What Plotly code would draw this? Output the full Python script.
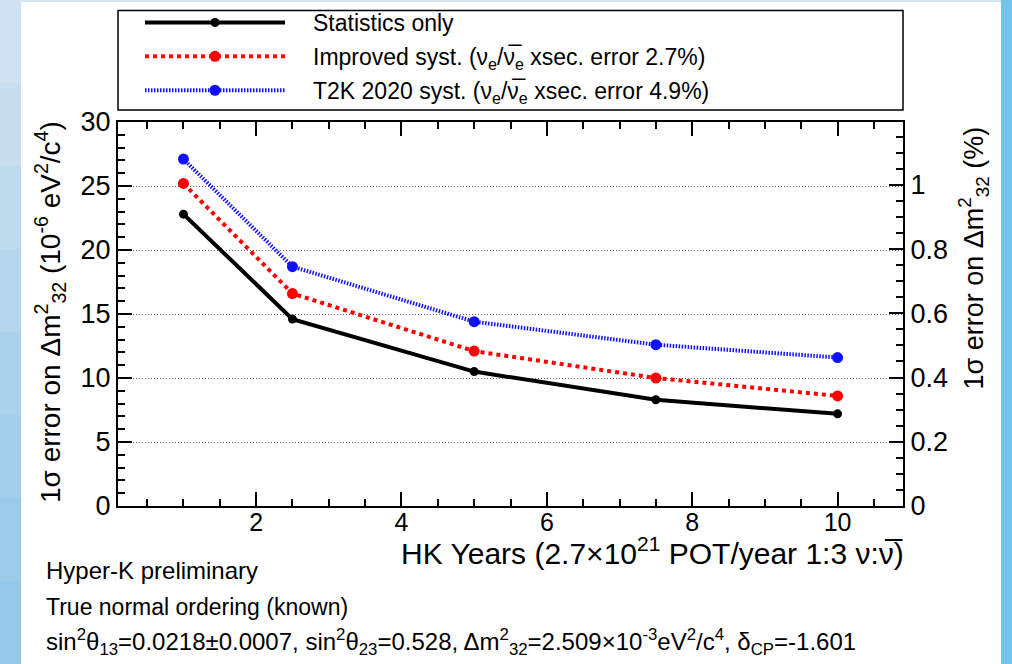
import plotly.graph_objects as go

# ---- data ----
years = [1, 2.5, 5, 7.5, 10]
stat_only = [22.8, 14.6, 10.5, 8.3, 7.2]
improved_syst = [25.2, 16.6, 12.1, 10.0, 8.6]
t2k2020_syst = [27.1, 18.7, 14.4, 12.6, 11.6]
dm2_32 = 2.509e-3  # eV^2/c^4, used for the right (%) axis
y_range = [0, 30]
x_range = [0.1, 10.9]
x_ticks = [2, 4, 6, 8, 10]

names = [
    "\u2003Statistics only",
    "\u2003Improved syst. (ν<sub>e</sub>/ν̅<sub>e</sub> xsec. error 2.7%)",
    "\u2003T2K 2020 syst. (ν<sub>e</sub>/ν̅<sub>e</sub> xsec. error 4.9%)",
]

W, H = 1012, 664
L, R, T, B = 118, 903, 122, 506
FONT = "Liberation Sans, Arial, Helvetica, sans-serif"


def px(x):
    return (x - L) / (R - L)


def py(y):
    return (B - y) / (B - T)


fig = go.Figure()
fig.add_trace(go.Scatter(
    x=years, y=stat_only, name=names[0], mode="lines+markers", legendgroup="a",
    line=dict(color="black", width=4),
    marker=dict(color="black", size=9),
))
fig.add_trace(go.Scatter(
    x=years, y=improved_syst, name=names[1], mode="lines+markers", legendgroup="b",
    line=dict(color="#ff0000", width=4, dash="4px,4px"),
    marker=dict(color="#ff0000", size=11),
))
fig.add_trace(go.Scatter(
    x=years, y=t2k2020_syst, name=names[2], mode="lines+markers", legendgroup="c",
    line=dict(color="#1010ff", width=4, dash="1.5px,1.5px"),
    marker=dict(color="#1010ff", size=11),
))
# empty trace so the right-hand (%) axis is drawn
fig.add_trace(go.Scatter(x=[], y=[], yaxis="y2", showlegend=False, hoverinfo="skip"))

shapes = []
# background strips (slide frame)
left_cols = ["#d0e1ef", "#c8ddee", "#bfd9ed", "#b6d6ec", "#acd2eb", "#a3cfea", "#9bcbe9", "#93c8e8"]
n = len(left_cols)
for i, c in enumerate(left_cols):
    shapes.append(dict(type="rect", xref="paper", yref="paper", layer="below",
                       x0=px(0), x1=px(21), y0=py(H * (i + 1) / n), y1=py(H * i / n),
                       fillcolor=c, line=dict(width=0)))
shapes.append(dict(type="rect", xref="paper", yref="paper", layer="below",
                   x0=px(1001), x1=px(W), y0=py(H), y1=py(0),
                   fillcolor="#74c3ea", line=dict(width=0)))
shapes.append(dict(type="rect", xref="paper", yref="paper", layer="below",
                   x0=px(21), x1=px(1001), y0=py(2), y1=py(0),
                   fillcolor="#d3e5f2", line=dict(width=0)))
# legend frame
shapes.append(dict(type="rect", xref="paper", yref="paper",
                   x0=0, x1=1, y0=py(110), y1=py(10.5),
                   fillcolor="rgba(0,0,0,0)", line=dict(color="black", width=1.5)))

annotations = [
    dict(text="1σ error on Δm<sup>2</sup><sub>32</sub> (10<sup>-6</sup> eV<sup>2</sup>/c<sup>4</sup>)",
         textangle=-90, xref="paper", yref="paper", x=px(50), y=py(119),
         xanchor="center", yanchor="top", showarrow=False,
         font=dict(size=28, color="black", family=FONT)),
    dict(text="1σ error on Δm<sup>2</sup><sub>32</sub> (%)",
         textangle=-90, xref="paper", yref="paper", x=px(973), y=py(125),
         xanchor="center", yanchor="top", showarrow=False,
         font=dict(size=27, color="black", family=FONT)),
    dict(text="HK Years (2.7×10<sup>21</sup> POT/year 1:3 ν:ν̅)",
         xref="paper", yref="paper", x=px(906), y=py(551),
         xanchor="right", yanchor="middle", showarrow=False,
         font=dict(size=30, color="black", family=FONT)),
    dict(text="Hyper-K preliminary",
         xref="paper", yref="paper", x=px(44), y=py(570),
         xanchor="left", yanchor="middle", showarrow=False,
         font=dict(size=24, color="black", family=FONT)),
    dict(text="True normal ordering (known)",
         xref="paper", yref="paper", x=px(44), y=py(607),
         xanchor="left", yanchor="middle", showarrow=False,
         font=dict(size=23, color="black", family=FONT)),
    dict(text="sin<sup>2</sup>θ<sub>13</sub>=0.0218±0.0007, sin<sup>2</sup>θ<sub>23</sub>=0.528, "
              "Δm<sup>2</sup><sub>32</sub>=2.509×10<sup>-3</sup>eV<sup>2</sup>/c<sup>4</sup>, "
              "δ<sub>CP</sub>=-1.601",
         xref="paper", yref="paper", x=px(44), y=py(642),
         xanchor="left", yanchor="middle", showarrow=False,
         font=dict(size=24, color="black", family=FONT)),
]

tickfont = dict(size=27, color="black", family=FONT)
xtickfont = dict(size=25, color="black", family=FONT)
minor_common = dict(ticks="inside", ticklen=7, tickcolor="black", tickwidth=1.5)

fig.update_layout(
    width=W, height=H,
    margin=dict(l=L, r=W - R, t=T, b=H - B, pad=0, autoexpand=False),
    paper_bgcolor="white", plot_bgcolor="white",
    font=dict(family=FONT, color="black"),
    showlegend=True,
    legend=dict(x=px(140), y=py(1), xanchor="left", yanchor="top",
                bgcolor="rgba(0,0,0,0)", borderwidth=0,
                font=dict(size=23, color="black", family=FONT),
                itemwidth=140, tracegroupgap=1),
    xaxis=dict(range=x_range, showgrid=False, zeroline=False,
               showline=True, linecolor="black", linewidth=2, mirror="ticks",
               ticks="inside", ticklen=14, tickwidth=1.5, tickcolor="black",
               tickmode="array", tickvals=x_ticks, tickfont=xtickfont,
               ticklabelstandoff=-7,
               minor=dict(dtick=0.5, tick0=0, **minor_common)),
    yaxis=dict(range=y_range, showgrid=True, gridcolor="#666", griddash="1px,2px", gridwidth=1,
               zeroline=False, showline=True, linecolor="black", linewidth=2,
               ticks="inside", ticklen=14, tickwidth=1.5, tickcolor="black",
               tick0=0, dtick=5, tickfont=tickfont,
               minor=dict(dtick=1, tick0=0, **minor_common)),
    yaxis2=dict(overlaying="y", side="right", range=[0, y_range[1] * 1e-6 / dm2_32 * 100],
                showgrid=False, zeroline=False, showline=True, linecolor="black", linewidth=2,
                ticks="inside", ticklen=14, tickwidth=1.5, tickcolor="black",
                tick0=0, dtick=0.2, tickfont=tickfont,
                minor=dict(dtick=0.05, tick0=0, **minor_common)),
    shapes=shapes,
    annotations=annotations,
)

fig.write_html(
    "out.html",
    config={"displayModeBar": False},
    post_script="document.body.style.margin='0';document.body.style.overflow='hidden';",
)
